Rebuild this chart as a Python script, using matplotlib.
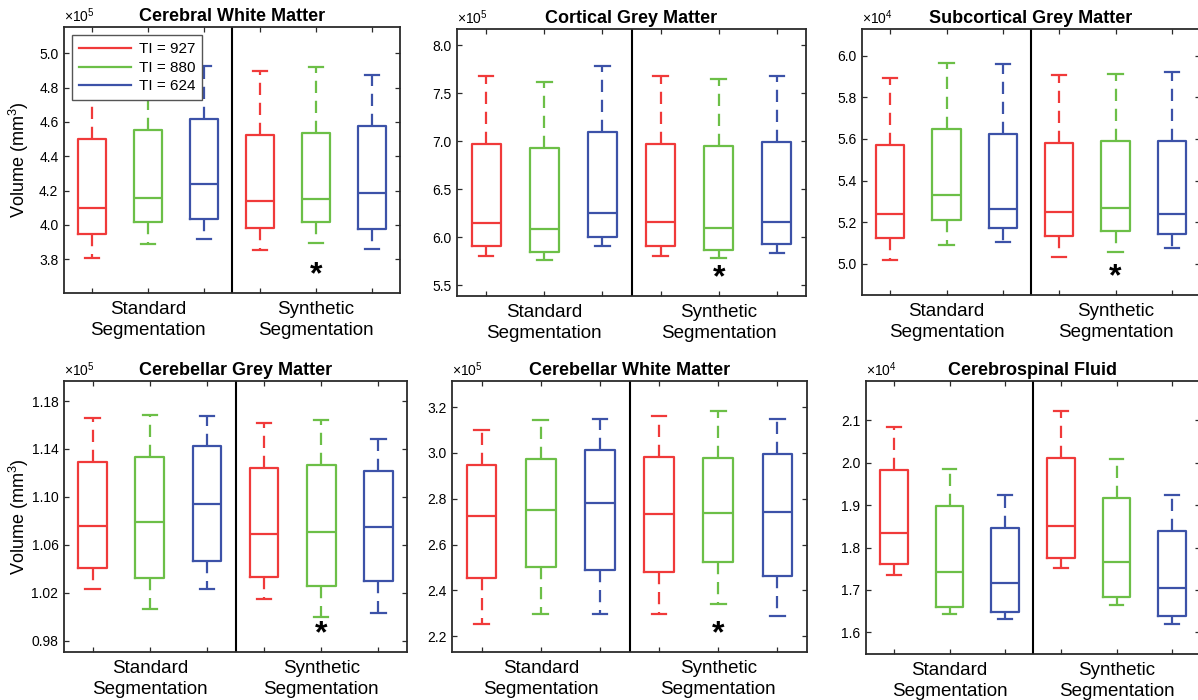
import matplotlib
matplotlib.use("Agg")
import matplotlib.pyplot as plt
from matplotlib.lines import Line2D
import matplotlib.transforms as mtransforms
import numpy as np

plt.rcParams['font.family'] = ['Liberation Sans', 'DejaVu Sans']
plt.rcParams['mathtext.fontset'] = 'custom'
plt.rcParams['mathtext.rm'] = 'Liberation Sans'
plt.rcParams['mathtext.it'] = 'Liberation Sans'

# ---- data (volumes, in units of 10^exponent) ----
titles = ['Cerebral White Matter', 'Cortical Grey Matter', 'Subcortical Grey Matter',
          'Cerebellar Grey Matter', 'Cerebellar White Matter', 'Cerebrospinal Fluid']
exponents = [5, 5, 4, 5, 5, 4]
group_labels = ['Standard\nSegmentation', 'Synthetic\nSegmentation']
ti_labels = ['TI = 927', 'TI = 880', 'TI = 624']
colors = ['#f03a3a', '#6cbf47', '#3c52a8']

# each row: standard 927/880/624, synthetic 927/880/624
whisker_lo = [
    [3.81, 3.89, 3.918, 3.854, 3.893, 3.858],
    [5.80, 5.764, 5.91, 5.80, 5.788, 5.834],
    [5.017, 5.093, 5.104, 5.034, 5.058, 5.077],
    [1.0235, 1.006, 1.0229, 1.0146, 0.9993, 1.0034],
    [2.254, 2.299, 2.295, 2.299, 2.34, 2.289],
    [1.735, 1.644, 1.632, 1.752, 1.664, 1.62],
]
q1 = [
    [3.95, 4.02, 4.035, 3.984, 4.019, 3.975],
    [5.91, 5.847, 6.004, 5.914, 5.868, 5.925],
    [5.125, 5.209, 5.171, 5.134, 5.16, 5.144],
    [1.041, 1.0323, 1.0465, 1.0332, 1.0254, 1.0296],
    [2.454, 2.50, 2.49, 2.481, 2.522, 2.462],
    [1.762, 1.66, 1.649, 1.776, 1.683, 1.639],
]
median = [
    [4.10, 4.155, 4.237, 4.138, 4.15, 4.188],
    [6.15, 6.085, 6.255, 6.155, 6.10, 6.158],
    [5.241, 5.33, 5.265, 5.25, 5.27, 5.238],
    [1.076, 1.079, 1.0938, 1.069, 1.0704, 1.0749],
    [2.726, 2.751, 2.78, 2.733, 2.738, 2.741],
    [1.834, 1.743, 1.716, 1.85, 1.765, 1.704],
]
q3 = [
    [4.50, 4.553, 4.62, 4.524, 4.538, 4.577],
    [6.973, 6.93, 7.095, 6.976, 6.952, 6.99],
    [5.569, 5.648, 5.624, 5.582, 5.592, 5.589],
    [1.1294, 1.1336, 1.1422, 1.1238, 1.1266, 1.1219],
    [2.946, 2.974, 3.013, 2.984, 2.978, 2.997],
    [1.982, 1.898, 1.846, 2.011, 1.917, 1.839],
]
whisker_hi = [
    [4.85, 4.90, 4.928, 4.897, 4.92, 4.872],
    [7.676, 7.62, 7.79, 7.683, 7.645, 7.68],
    [5.891, 5.965, 5.958, 5.907, 5.91, 5.92],
    [1.1661, 1.168, 1.1672, 1.162, 1.1645, 1.1483],
    [3.10, 3.144, 3.147, 3.162, 3.185, 3.147],
    [2.085, 1.985, 1.925, 2.122, 2.009, 1.924],
]
significant = [True, True, True, True, True, False]

ylims = [(3.604, 5.153), (5.388, 8.171), (4.851, 6.128),
         (0.9705, 1.1967), (2.131, 3.314), (1.549, 2.193)]
yticks = [np.arange(3.8, 5.01, 0.2), np.arange(5.5, 8.01, 0.5), np.arange(5.0, 6.01, 0.2),
          np.arange(0.98, 1.181, 0.04), np.arange(2.2, 3.21, 0.2), np.arange(1.6, 2.11, 0.1)]
ydecimals = [1, 1, 1, 2, 1, 1]

# axes rectangles in pixels: left, top, right, bottom
W, H = 1198, 700
rects = [(64, 27, 400, 293), (457, 29, 806, 296), (862, 29, 1200, 295),
         (64, 381, 407, 652), (452, 381, 807, 652), (866, 381, 1200, 654)]

fig = plt.figure(figsize=(W / 100, H / 100), dpi=100)

spine_col = '#2b2b2b'
for k in range(6):
    l, t, r, b = rects[k]
    ax = fig.add_axes([l / W, 1 - b / H, (r - l) / W, (b - t) / H])
    positions = np.arange(1, 7)
    for i in range(6):
        c = colors[i % 3]
        stats = [dict(whislo=whisker_lo[k][i], q1=q1[k][i], med=median[k][i],
                      q3=q3[k][i], whishi=whisker_hi[k][i])]
        ax.bxp(stats, positions=[positions[i]], widths=0.5, capwidths=0.25,
               showfliers=False, manage_ticks=False,
               boxprops=dict(color=c, lw=1.6),
               medianprops=dict(color=c, lw=1.6),
               whiskerprops=dict(color=c, lw=1.6, linestyle=(0, (5.5, 3.5))),
               capprops=dict(color=c, lw=1.6))
    ax.axvline(3.5, color='black', lw=1.5)
    if significant[k]:
        ax.text(5, 0.065, '*', transform=mtransforms.blended_transform_factory(ax.transData, ax.transAxes),
                ha='center', va='center', fontsize=23, fontweight='bold')

    ax.set_xlim(0.5, 6.5)
    ax.set_ylim(*ylims[k])
    ax.xaxis.remove_overlapping_locs = False
    ax.set_xticks(positions)
    ax.set_xticklabels([])
    ax.set_xticks([2, 5], minor=True)
    ax.set_xticklabels(group_labels, minor=True, fontsize=13.5, linespacing=1.3)
    ax.tick_params(axis='x', which='minor', length=0, pad=6, bottom=True, top=False)
    ax.set_yticks(yticks[k])
    ax.set_yticklabels([f'{v:.{ydecimals[k]}f}' for v in yticks[k]], fontsize=10)
    ax.tick_params(which='major', direction='in', length=3.5, width=0.9, color=spine_col,
                   top=True, right=True, pad=4)
    for s in ax.spines.values():
        s.set_color(spine_col)
        s.set_linewidth(1.3)

    ax.set_title(titles[k], fontsize=13, fontweight='bold', pad=4)
    ax.text(0, 1.008, r'$\times10^{%d}$' % exponents[k], transform=ax.transAxes,
            ha='left', va='bottom', fontsize=10)

    if k % 3 == 0:
        yc = 1 - (t + b) / 2 / H
        fig.text(19 / W, yc, r'Volume (mm$^3$)', rotation=90, ha='center', va='center', fontsize=13)

    if k == 0:
        handles = [Line2D([], [], color=c, lw=1.6) for c in colors]
        leg = ax.legend(handles, ti_labels, loc='upper left', bbox_to_anchor=(0.0, 1.0),
                        borderaxespad=0.55, fontsize=11, handlelength=3.4,
                        labelspacing=0.3, borderpad=0.45,
                        handletextpad=0.5, fancybox=False, framealpha=1)
        leg.get_frame().set_edgecolor('#555555')
        leg.get_frame().set_linewidth(1.0)
        leg.set_zorder(10)

fig.savefig('out.png', dpi=100)
